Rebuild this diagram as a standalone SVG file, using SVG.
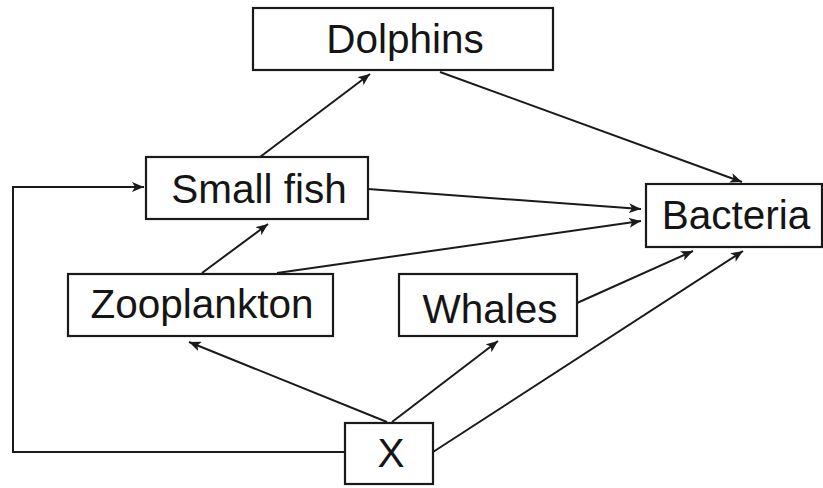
<svg xmlns="http://www.w3.org/2000/svg" width="823" height="488" viewBox="0 0 823 488">
<style>
.box{fill:#fff;stroke:#1a1a1a;stroke-width:2.2}
.lbl{font-family:"Liberation Sans",Arial,sans-serif;font-size:40.5px;fill:#151515;text-anchor:middle}
.edge{fill:none;stroke:#1a1a1a;stroke-width:2;marker-end:url(#ah)}
</style>
<defs>
<marker id="ah" viewBox="0 0 12 10" refX="12" refY="5" markerWidth="12" markerHeight="10" markerUnits="userSpaceOnUse" orient="auto">
<path d="M0,0 L12,5 L0,10 L3,5 Z" fill="#1a1a1a"/>
</marker>
</defs>
<g id="connectors">
<path class="edge" d="M345,452 H13 V187 H144"/>
<line class="edge" x1="260" y1="157" x2="370" y2="74"/>
<line class="edge" x1="440" y1="72" x2="742" y2="182"/>
<line class="edge" x1="368" y1="189" x2="641" y2="209"/>
<line class="edge" x1="277" y1="273" x2="641" y2="221"/>
<line class="edge" x1="202" y1="273" x2="268" y2="224"/>
<line class="edge" x1="387" y1="422" x2="189" y2="342"/>
<line class="edge" x1="392" y1="422" x2="498" y2="341"/>
<line class="edge" x1="577" y1="303" x2="693" y2="251"/>
<line class="edge" x1="433" y1="452" x2="743" y2="251"/>
</g>
<g id="dolphins"><rect class="box" x="253" y="8" width="300" height="62"/><text class="lbl" x="405" y="53">Dolphins</text></g>
<g id="small-fish"><rect class="box" x="146" y="157" width="222" height="62"/><text class="lbl" x="259" y="203">Small fish</text></g>
<g id="bacteria"><rect class="box" x="646" y="184" width="176" height="63"/><text class="lbl" x="736" y="229">Bacteria</text></g>
<g id="zooplankton"><rect class="box" x="68" y="274" width="265" height="62"/><text class="lbl" x="202" y="318">Zooplankton</text></g>
<g id="whales"><rect class="box" x="399" y="274" width="178" height="62"/><text class="lbl" x="490" y="323">Whales</text></g>
<g id="x"><rect class="box" x="345" y="423" width="88" height="61"/><text class="lbl" x="391" y="467">X</text></g>
</svg>
